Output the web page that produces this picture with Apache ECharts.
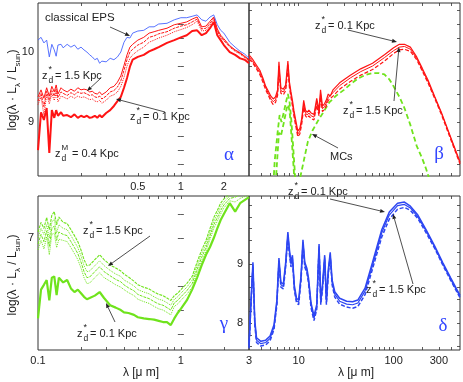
<!DOCTYPE html>
<html>
<head>
<meta charset="utf-8">
<script src="https://cdn.jsdelivr.net/npm/echarts@6.0.0/dist/echarts.min.js"></script>
<style>
  html, body { margin: 0; padding: 0; background: #fff; }
  #main { width: 463px; height: 382px; }
</style>
</head>
<body>
<div id="main"></div>
<script>
const chartDom = document.getElementById("main");
const myChart = echarts.init(chartDom);

// ---- data: wavelength in micron, values are log(lambda L_lambda / L_sun) ----

// panel alpha (UV-NIR, 0.1 - 3 micron)
const lambdaAlpha = [0.1, 0.105, 0.11, 0.115, 0.12, 0.125, 0.13, 0.134, 0.138, 0.145, 0.15, 0.16, 0.17, 0.18, 0.19, 0.2, 0.21, 0.22, 0.23, 0.24, 0.25, 0.26, 0.27, 0.28, 0.3, 0.32, 0.34, 0.36, 0.38, 0.4, 0.42, 0.44, 0.46, 0.5, 0.55, 0.6, 0.65, 0.7, 0.8, 0.9, 1.0, 1.1, 1.2, 1.3, 1.4, 1.5, 1.6, 1.7, 1.8, 1.9, 2.0, 2.2, 2.4, 2.6, 2.8, 3.0];
const alphaEps = [10.17, 10.21, 10.13, 10.17, 9.93, 10.11, 10.03, 9.94, 10.10, 10.11, 10.06, 10.11, 10.07, 10.10, 10.04, 10.07, 10.03, 10.00, 9.96, 9.93, 9.89, 9.91, 9.84, 9.87, 9.86, 9.91, 9.89, 9.93, 10.00, 10.14, 10.21, 10.20, 10.27, 10.30, 10.31, 10.36, 10.36, 10.40, 10.41, 10.46, 10.49, 10.49, 10.51, 10.53, 10.46, 10.44, 10.50, 10.53, 10.39, 10.31, 10.27, 10.14, 10.07, 10.01, 9.97, 9.91];
const alphaZ15 = [9.36, 9.46, 9.34, 9.49, 9.37, 9.51, 9.43, 9.53, 9.40, 9.49, 9.46, 9.43, 9.47, 9.44, 9.49, 9.46, 9.47, 9.46, 9.43, 9.44, 9.41, 9.40, 9.43, 9.39, 9.43, 9.49, 9.51, 9.57, 9.66, 9.81, 9.96, 10.07, 10.11, 10.17, 10.21, 10.27, 10.29, 10.31, 10.34, 10.39, 10.41, 10.43, 10.47, 10.50, 10.36, 10.37, 10.44, 10.50, 10.33, 10.24, 10.19, 10.09, 10.03, 9.99, 9.94, 9.89];
const alphaZ10 = [9.30, 9.41, 9.22, 9.44, 9.31, 9.45, 9.37, 9.47, 9.35, 9.43, 9.41, 9.38, 9.42, 9.39, 9.43, 9.41, 9.42, 9.40, 9.38, 9.39, 9.36, 9.35, 9.37, 9.33, 9.37, 9.43, 9.45, 9.50, 9.59, 9.74, 9.89, 10.00, 10.04, 10.10, 10.14, 10.21, 10.23, 10.26, 10.29, 10.34, 10.37, 10.39, 10.43, 10.47, 10.33, 10.34, 10.41, 10.48, 10.31, 10.22, 10.17, 10.08, 10.02, 9.98, 9.93, 9.88];
const alphaZ05 = [9.25, 9.36, 9.10, 9.39, 9.26, 9.40, 9.31, 9.42, 9.29, 9.37, 9.36, 9.33, 9.37, 9.34, 9.37, 9.35, 9.36, 9.34, 9.32, 9.33, 9.30, 9.29, 9.31, 9.27, 9.31, 9.37, 9.39, 9.43, 9.51, 9.64, 9.80, 9.91, 9.96, 10.02, 10.07, 10.14, 10.17, 10.20, 10.24, 10.29, 10.32, 10.35, 10.39, 10.44, 10.30, 10.31, 10.38, 10.46, 10.29, 10.21, 10.16, 10.07, 10.01, 9.97, 9.92, 9.87];
const alphaZ01 = [8.60, 9.14, 9.03, 9.20, 8.56, 9.17, 9.06, 9.17, 9.09, 9.14, 9.09, 9.10, 9.07, 9.11, 9.06, 9.09, 9.07, 9.09, 9.06, 9.07, 9.09, 9.06, 9.10, 9.07, 9.13, 9.17, 9.23, 9.30, 9.36, 9.49, 9.63, 9.79, 9.89, 9.93, 9.96, 10.01, 10.04, 10.07, 10.13, 10.17, 10.21, 10.24, 10.30, 10.31, 10.24, 10.27, 10.34, 10.43, 10.24, 10.17, 10.10, 10.00, 9.96, 9.91, 9.89, 9.84];

// panel beta (MIR-submm, 3 - 500 micron)
const lambdaBeta = [3.0, 3.3, 3.6, 3.9, 4.2, 4.5, 4.8, 5.1, 5.4, 5.7, 6.0, 6.2, 6.5, 6.9, 7.3, 7.7, 8.0, 8.3, 8.6, 8.9, 9.3, 9.8, 10.3, 10.8, 11.3, 11.8, 12.3, 12.8, 13.5, 14.5, 15.5, 16.4, 17.0, 17.8, 18.7, 19.5, 20.5, 21.5, 23, 27, 35, 45, 60, 80, 100, 115, 130, 150, 175, 200, 230, 270, 320, 380, 440, 500];
const betaZ01 = [9.96, 9.89, 9.81, 9.74, 9.63, 9.51, 9.44, 9.37, 9.33, 9.36, 9.46, 9.86, 9.49, 9.47, 9.53, 9.87, 9.57, 9.43, 9.31, 9.17, 9.03, 8.87, 8.91, 9.06, 9.31, 9.17, 9.14, 9.17, 9.13, 9.11, 9.34, 9.17, 9.46, 9.23, 9.26, 9.31, 9.40, 9.37, 9.46, 9.56, 9.67, 9.76, 9.84, 9.96, 10.06, 10.11, 10.11, 10.07, 9.93, 9.77, 9.60, 9.37, 9.13, 8.86, 8.63, 8.43];
const betaZ05 = [9.93, 9.86, 9.78, 9.71, 9.60, 9.49, 9.41, 9.33, 9.29, 9.32, 9.42, 9.80, 9.45, 9.43, 9.49, 9.82, 9.53, 9.39, 9.27, 9.13, 8.99, 8.83, 8.87, 9.02, 9.26, 9.13, 9.10, 9.13, 9.09, 9.07, 9.29, 9.13, 9.41, 9.19, 9.22, 9.27, 9.35, 9.33, 9.42, 9.52, 9.63, 9.72, 9.80, 9.92, 10.02, 10.07, 10.08, 10.04, 9.91, 9.75, 9.58, 9.36, 9.12, 8.85, 8.62, 8.42];
const betaZ15 = [9.90, 9.84, 9.76, 9.68, 9.57, 9.46, 9.38, 9.30, 9.25, 9.28, 9.38, 9.74, 9.41, 9.39, 9.45, 9.76, 9.49, 9.35, 9.23, 9.09, 8.95, 8.79, 8.83, 8.98, 9.21, 9.09, 9.06, 9.09, 9.05, 9.03, 9.24, 9.09, 9.36, 9.15, 9.18, 9.23, 9.31, 9.29, 9.37, 9.47, 9.58, 9.67, 9.75, 9.87, 9.98, 10.03, 10.04, 10.01, 9.89, 9.73, 9.56, 9.34, 9.10, 8.83, 8.60, 8.40];
// molecular clouds (green dashed)
const lambdaMcA = [5.3, 5.6, 6.0, 6.3, 6.6, 7.0, 7.4, 7.7, 8.0, 8.4, 8.8, 9.2, 9.5, 9.9, 10.5, 11.5, 12.5, 14, 16, 18, 21, 25, 30, 35, 42, 50, 60, 70, 80, 90, 100, 115, 130, 150, 175, 200, 220, 240, 260, 280];
const mcA = [7.9, 8.45, 8.85, 9.10, 9.00, 9.15, 9.30, 9.40, 9.30, 9.00, 8.60, 8.20, 7.9, 7.9, 8.24, 8.49, 8.72, 8.88, 9.02, 9.13, 9.28, 9.38, 9.46, 9.54, 9.62, 9.67, 9.70, 9.70, 9.68, 9.61, 9.51, 9.36, 9.20, 8.96, 8.66, 8.48, 8.33, 8.17, 8.03, 7.9];
const lambdaMcB = [5.6, 5.9, 6.2, 6.5, 7.0, 7.5, 7.8, 8.1, 8.5, 8.9, 9.1];
const mcB = [7.9, 8.40, 8.85, 8.80, 9.00, 9.20, 9.25, 9.10, 8.70, 8.30, 7.9];

// panel gamma (UV-NIR, 0.1 - 3 micron)
const lambdaGamma = [0.1, 0.105, 0.11, 0.115, 0.12, 0.125, 0.13, 0.135, 0.14, 0.15, 0.16, 0.17, 0.18, 0.19, 0.2, 0.21, 0.22, 0.23, 0.25, 0.27, 0.29, 0.32, 0.35, 0.38, 0.4, 0.43, 0.47, 0.5, 0.55, 0.6, 0.65, 0.7, 0.75, 0.8, 0.85, 0.9, 0.95, 1.0, 1.1, 1.2, 1.3, 1.4, 1.5, 1.6, 1.7, 1.8, 1.9, 2.0, 2.2, 2.4, 2.6, 3.0];
const gammaZ15 = [7.05, 7.13, 7.08, 7.17, 7.07, 7.19, 7.22, 7.11, 7.175, 7.13, 7.12, 7.07, 7.02, 6.97, 6.90, 6.82, 6.77, 6.775, 6.82, 6.86, 6.82, 6.775, 6.75, 6.725, 6.70, 6.675, 6.64, 6.61, 6.59, 6.575, 6.55, 6.53, 6.52, 6.50, 6.48, 6.52, 6.54, 6.57, 6.62, 6.68, 6.80, 6.90, 6.98, 7.08, 7.17, 7.23, 7.29, 7.325, 7.37, 7.38, 7.40, 7.42];
const gammaZ10 = [7.00, 7.08, 7.03, 7.11, 7.00, 7.13, 7.16, 7.04, 7.11, 7.08, 7.07, 7.02, 6.97, 6.92, 6.85, 6.77, 6.72, 6.725, 6.77, 6.81, 6.77, 6.73, 6.70, 6.68, 6.65, 6.63, 6.60, 6.57, 6.55, 6.535, 6.51, 6.49, 6.48, 6.46, 6.44, 6.49, 6.51, 6.54, 6.59, 6.65, 6.77, 6.87, 6.95, 7.05, 7.14, 7.20, 7.26, 7.30, 7.35, 7.36, 7.38, 7.40];
const gammaZ05 = [6.95, 7.03, 6.97, 7.06, 6.93, 7.08, 7.10, 6.98, 7.05, 7.03, 7.02, 6.97, 6.92, 6.87, 6.80, 6.72, 6.67, 6.675, 6.72, 6.76, 6.72, 6.685, 6.655, 6.635, 6.61, 6.585, 6.56, 6.53, 6.51, 6.495, 6.47, 6.45, 6.44, 6.42, 6.40, 6.46, 6.48, 6.51, 6.56, 6.62, 6.74, 6.84, 6.92, 7.02, 7.11, 7.17, 7.23, 7.275, 7.33, 7.34, 7.36, 7.38];
const gammaZ03 = [6.90, 6.98, 6.91, 7.01, 6.86, 7.03, 7.04, 6.92, 6.99, 6.98, 6.97, 6.92, 6.87, 6.82, 6.75, 6.67, 6.62, 6.625, 6.67, 6.71, 6.67, 6.64, 6.61, 6.59, 6.57, 6.545, 6.52, 6.49, 6.47, 6.455, 6.43, 6.41, 6.40, 6.38, 6.36, 6.43, 6.45, 6.48, 6.53, 6.59, 6.71, 6.81, 6.89, 6.99, 7.08, 7.14, 7.20, 7.25, 7.31, 7.30, 7.33, 7.36];
const gammaZ01 = [6.33, 6.57, 6.61, 6.65, 6.48, 6.67, 6.68, 6.525, 6.67, 6.63, 6.65, 6.58, 6.55, 6.57, 6.54, 6.51, 6.49, 6.50, 6.52, 6.55, 6.50, 6.44, 6.42, 6.40, 6.38, 6.375, 6.36, 6.34, 6.33, 6.325, 6.32, 6.31, 6.30, 6.30, 6.275, 6.33, 6.375, 6.41, 6.48, 6.57, 6.67, 6.775, 6.86, 6.925, 7.00, 7.08, 7.15, 7.20, 7.29, 7.22, 7.29, 7.34];

// panel delta (MIR-submm, 3 - 500 micron)
const lambdaDelta = [3.0, 3.15, 3.3, 3.45, 3.6, 4.0, 4.5, 5.0, 5.5, 5.9, 6.2, 6.5, 6.9, 7.3, 7.7, 8.0, 8.3, 8.6, 9.0, 9.5, 10.0, 10.6, 11.1, 11.6, 12.2, 12.7, 13.5, 14.5, 15.5, 16.4, 17.1, 17.8, 18.8, 19.6, 20.5, 21.5, 22.5, 24, 27, 32, 37, 42, 50, 60, 75, 90, 110, 130, 150, 180, 220, 270, 330, 400, 500];
const deltaZ01 = [7.63, 8.39, 9.03, 8.05, 7.75, 7.69, 7.71, 7.78, 7.97, 8.39, 9.10, 8.69, 8.66, 9.03, 9.54, 9.24, 9.03, 9.15, 8.64, 8.42, 8.39, 8.81, 9.41, 9.03, 8.93, 8.76, 8.34, 8.12, 8.31, 9.34, 8.39, 8.64, 9.15, 8.39, 8.90, 9.20, 8.73, 8.53, 8.42, 8.37, 8.36, 8.39, 8.59, 9.03, 9.58, 9.88, 10.03, 10.05, 9.98, 9.83, 9.58, 9.31, 9.02, 8.76, 8.47];
const deltaZ05 = [7.60, 8.35, 8.99, 8.01, 7.71, 7.65, 7.67, 7.74, 7.93, 8.35, 9.06, 8.65, 8.62, 8.99, 9.50, 9.20, 8.99, 9.11, 8.60, 8.38, 8.35, 8.77, 9.37, 8.99, 8.89, 8.72, 8.30, 8.08, 8.27, 9.30, 8.35, 8.60, 9.11, 8.35, 8.86, 9.16, 8.69, 8.49, 8.37, 8.32, 8.31, 8.34, 8.54, 8.98, 9.53, 9.83, 9.99, 10.01, 9.95, 9.80, 9.56, 9.29, 9.00, 8.74, 8.45];
const deltaZ15 = [7.57, 8.31, 8.95, 7.97, 7.67, 7.61, 7.63, 7.70, 7.89, 8.31, 9.02, 8.61, 8.58, 8.95, 9.46, 9.16, 8.95, 9.07, 8.56, 8.34, 8.31, 8.73, 9.33, 8.95, 8.85, 8.68, 8.26, 8.04, 8.23, 9.26, 8.31, 8.56, 9.07, 8.31, 8.82, 9.12, 8.65, 8.44, 8.32, 8.27, 8.25, 8.28, 8.48, 8.92, 9.46, 9.76, 9.93, 9.96, 9.91, 9.77, 9.53, 9.27, 8.98, 8.72, 8.43];

// axis ranges and tick labels
const xRanges = [[0.1, 3], [3, 500], [0.1, 3], [3, 500]];
const yRanges = [[8.23, 10.70], [8.23, 10.70], [6.067, 7.35], [7.543, 10.153]];
const xTickLabels = [[0.5, 1, 2], [], [0.1, 1], [3, 10, 100, 300]];
const yTickLabels = [[9, 10], [], [7], [8, 9]];
const xTicksShort = [0.2, 0.3, 0.4, 0.5, 0.6, 0.7, 0.8, 0.9, 1, 2];
const xTicksLong = [4, 5, 6, 7, 8, 9, 10, 20, 30, 40, 50, 60, 70, 80, 90, 100, 200, 300, 400];
const yTicksTop = [8.4, 8.6, 8.8, 9, 9.2, 9.4, 9.6, 9.8, 10, 10.2, 10.4, 10.6];
const yTicksGamma = [6.2, 6.4, 6.6, 6.8, 7, 7.2];
const yTicksDelta = [7.6, 7.8, 8, 8.2, 8.4, 8.6, 8.8, 9, 9.2, 9.4, 9.6, 9.8, 10];

// ---- styling ----
const FONT = '"Liberation Sans", Arial, sans-serif';
const INK = "#222";
const RED = "#ff1414";
const BLUE = "#2d46f2";
const EPS_BLUE = "#4563ff";
const GREEN = "#6fe31c";
const GREEK = "#3346ff";

const grids = [
    { left: 38, top: 3, width: 211, height: 173 },
    { left: 249, top: 3, width: 211, height: 173 },
    { left: 38, top: 196, width: 211, height: 154 },
    { left: 249, top: 196, width: 211, height: 154 },
].map((g) => ({ ...g, show: true, borderColor: "#333", borderWidth: 1, backgroundColor: "transparent" }));

const xTicksFor = [xTicksShort, xTicksLong, xTicksShort, xTicksLong];
const yTicksFor = [yTicksTop, yTicksTop, yTicksGamma, yTicksDelta];

const fmtLambda = (v) => String(parseFloat(Math.pow(10, v).toPrecision(3)));

function makeXAxis(i, position, withLabels) {
    return {
        type: "value",
        gridIndex: i,
        position: position,
        min: Math.log10(xRanges[i][0]),
        max: Math.log10(xRanges[i][1]),
        axisLine: { show: false },
        splitLine: { show: false },
        axisTick: {
            show: true,
            inside: true,
            length: 3,
            customValues: xTicksFor[i].map(Math.log10),
            lineStyle: { color: "#333", width: 0.8 },
        },
        axisLabel: {
            show: withLabels && xTickLabels[i].length > 0,
            customValues: xTickLabels[i].map(Math.log10),
            formatter: fmtLambda,
            fontSize: 11,
            fontFamily: FONT,
            color: INK,
            margin: 5,
        },
    };
}

function makeYAxis(i, position, withLabels) {
    return {
        type: "value",
        gridIndex: i,
        position: position,
        min: yRanges[i][0],
        max: yRanges[i][1],
        axisLine: { show: false },
        splitLine: { show: false },
        axisTick: {
            show: true,
            inside: true,
            length: 3,
            customValues: yTicksFor[i],
            lineStyle: { color: "#333", width: 0.8 },
        },
        axisLabel: {
            show: withLabels && yTickLabels[i].length > 0,
            customValues: yTickLabels[i],
            fontSize: 11,
            fontFamily: FONT,
            color: INK,
            margin: i === 3 ? 6 : 4,
        },
    };
}

const xAxes = [0, 1, 2, 3].map((i) => makeXAxis(i, "bottom", true))
    .concat([0, 1, 2, 3].map((i) => makeXAxis(i, "top", false)));
const yAxes = [0, 1, 2, 3].map((i) => makeYAxis(i, "left", true))
    .concat([0, 1, 2, 3].map((i) => makeYAxis(i, "right", false)));

const toPairs = (lam, vals) => lam.map((l, k) => [Math.log10(l), vals[k]]);

function curve(panel, lam, vals, color, width, type) {
    return {
        type: "line",
        xAxisIndex: panel,
        yAxisIndex: panel,
        data: toPairs(lam, vals),
        showSymbol: false,
        symbol: "none",
        silent: true,
        clip: true,
        lineStyle: { color: color, width: width, type: type || "solid" },
    };
}

const series = [
    // alpha
    curve(0, lambdaAlpha, alphaZ15, RED, 1, "solid"),
    curve(0, lambdaAlpha, alphaZ10, RED, 1, [3, 1]),
    curve(0, lambdaAlpha, alphaZ05, RED, 1, [1, 1]),
    curve(0, lambdaAlpha, alphaZ01, RED, 2, "solid"),
    curve(0, lambdaAlpha, alphaEps, EPS_BLUE, 0.9, "solid"),
    // beta
    curve(1, lambdaMcA, mcA, GREEN, 1.8, [5, 3]),
    curve(1, lambdaMcB, mcB, GREEN, 1.8, [5, 3]),
    curve(1, lambdaBeta, betaZ15, RED, 1.2, [4, 2]),
    curve(1, lambdaBeta, betaZ05, RED, 1, "solid"),
    curve(1, lambdaBeta, betaZ01, RED, 1.2, "solid"),
    // gamma
    curve(2, lambdaGamma, gammaZ15, GREEN, 1.1, [3, 1]),
    curve(2, lambdaGamma, gammaZ10, GREEN, 1, [1, 1]),
    curve(2, lambdaGamma, gammaZ05, GREEN, 1, [3, 1]),
    curve(2, lambdaGamma, gammaZ03, GREEN, 1, [1, 1]),
    curve(2, lambdaGamma, gammaZ01, GREEN, 2.2, "solid"),
    // delta
    curve(3, lambdaDelta, deltaZ15, BLUE, 1.5, [4, 2]),
    curve(3, lambdaDelta, deltaZ05, BLUE, 1.2, "solid"),
    curve(3, lambdaDelta, deltaZ01, BLUE, 1.5, "solid"),
];

// ---- annotations ----
function arrow(x1, y1, x2, y2) {
    const a = Math.atan2(y2 - y1, x2 - x1);
    const L = 5, W = 2;
    const bx = x2 - L * Math.cos(a);
    const by = y2 - L * Math.sin(a);
    return [
        { type: "line", z: 100, shape: { x1: x1, y1: y1, x2: bx, y2: by }, style: { stroke: INK, lineWidth: 0.8 } },
        {
            type: "polygon", z: 100,
            shape: { points: [[x2, y2], [bx - W * Math.sin(a), by + W * Math.cos(a)], [bx + W * Math.sin(a), by - W * Math.cos(a)]] },
            style: { fill: INK },
        },
    ];
}

function text(x, y, s, size, color, extra) {
    return {
        type: "text", x: x, y: y, z: 100,
        style: Object.assign({ text: s, fontSize: size, fontFamily: FONT, fill: color || INK, align: "left", verticalAlign: "middle" }, extra || {}),
    };
}

function zLabel(x, y, sup, rest) {
    const off = sup === "M" ? 17 : 13;
    return {
        type: "group", x: x, y: y, z: 100,
        children: [
            text(0, 0, "z", 11),
            text(6.5, -6, sup, sup === "M" ? 8 : 9),
            text(6.5, 5, "d", 8.5),
            text(off, 0, rest, 11),
        ],
    };
}

function greek(x, y, s) {
    return text(x, y, s, 19, GREEK, { fontFamily: '"Liberation Serif", serif', align: "center" });
}

function yTitle(x, y) {
    return {
        type: "text", x: x, y: y, z: 100, rotation: Math.PI / 2,
        style: {
            text: "log(λ · L{s|λ} / L{s|sun})",
            fontSize: 12, fontFamily: FONT, fill: INK, lineHeight: 18,
            align: "center", verticalAlign: "middle",
            rich: { s: { fontSize: 8, fontFamily: FONT, fill: INK, lineHeight: 8, verticalAlign: "bottom" } },
        },
    };
}

const graphics = [
    text(45, 17.5, "classical EPS", 11.5),
    ...arrow(110, 27, 130, 36),
    zLabel(42, 76, "*", "= 1.5 Kpc"),
    ...arrow(101, 78, 87, 91),
    zLabel(130, 117, "*", "= 0.1 Kpc"),
    ...arrow(165, 112, 116, 99),
    zLabel(55, 154, "M", "= 0.4 Kpc"),
    greek(229, 155, "α"),

    zLabel(315, 26, "*", "= 0.1 Kpc"),
    ...arrow(348, 30, 397, 42),
    zLabel(343, 111, "*", "= 1.5 Kpc"),
    ...arrow(394, 101, 399, 47),
    text(330, 157, "MCs", 11),
    ...arrow(338, 148, 312, 134),
    greek(439, 154, "β"),

    zLabel(83, 231, "*", "= 1.5 Kpc"),
    ...arrow(150, 236, 108, 266),
    zLabel(77, 334, "*", "= 0.1 Kpc"),
    ...arrow(115, 322, 106, 303),
    greek(224, 324, "γ"),

    zLabel(288, 192, "*", "= 0.1 Kpc"),
    ...arrow(330, 199, 385, 212),
    zLabel(366, 290, "*", "= 1.5 Kpc"),
    ...arrow(413, 284, 393, 214),
    greek(443, 326, "δ"),

    yTitle(13, 90),
    yTitle(13, 275),
    text(141, 373, "λ [μ m]", 12, INK, { align: "center" }),
    text(356, 373, "λ [μ m]", 12, INK, { align: "center" }),
];

myChart.setOption({
    animation: false,
    backgroundColor: "#fff",
    grid: grids,
    xAxis: xAxes,
    yAxis: yAxes,
    series: series,
    graphic: graphics,
});
</script>
</body>
</html>
